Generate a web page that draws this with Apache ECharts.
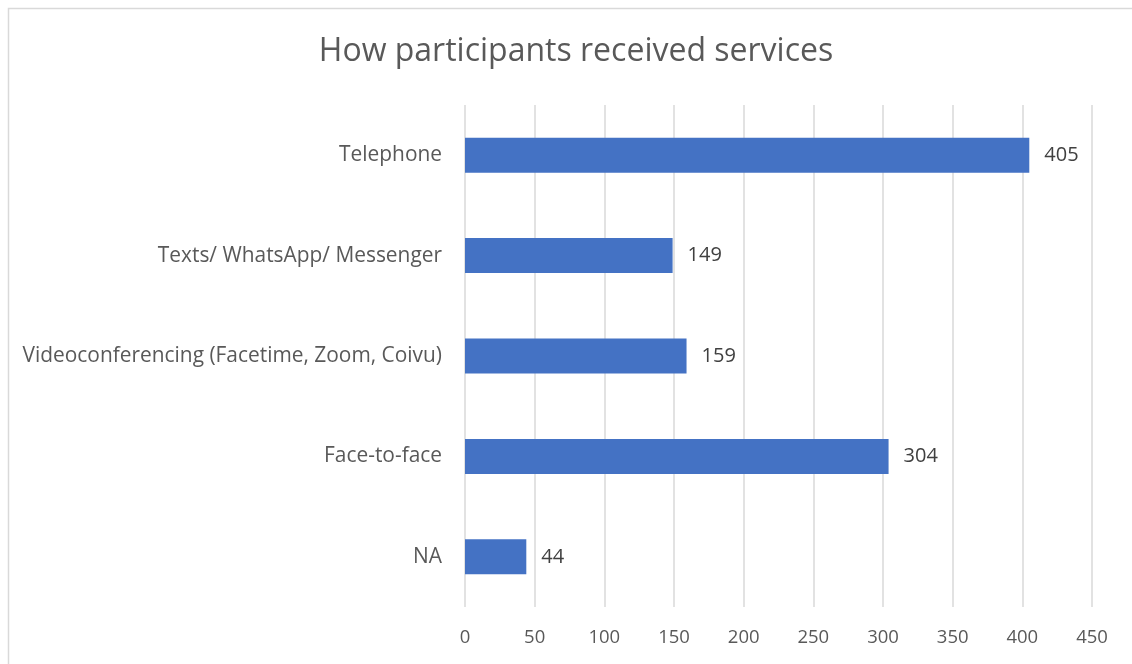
<!DOCTYPE html>
<html>
<head>
<meta charset="utf-8">
<style>
  html, body { margin: 0; padding: 0; background: #fff; }
  #chart { width: 1132px; height: 664px; }
</style>
<script src="https://cdn.jsdelivr.net/npm/echarts@6/dist/echarts.min.js"></script>
</head>
<body>
<div id="chart"></div>
<script>
// Service delivery modes, listed bottom-to-top for the category axis
const categories = ['NA', 'Face-to-face', 'Videoconferencing (Facetime, Zoom, Coivu)', 'Texts/ WhatsApp/ Messenger', 'Telephone'];
const counts = [44, 304, 159, 149, 405];
const xTicks = [0, 50, 100, 150, 200, 250, 300, 350, 400, 450];

const font = '"Open Sans", "Noto Sans", sans-serif';
const chart = echarts.init(document.getElementById('chart'), null, { renderer: 'canvas' });

chart.setOption({
  animation: false,
  backgroundColor: '#ffffff',
  title: {
    text: 'How participants received services',
    left: 571,
    top: 31,
    textAlign: 'center',
    textStyle: { fontFamily: font, fontSize: 32, fontWeight: 'normal', color: '#595959' }
  },
  graphic: [{
    type: 'rect',
    shape: { x: 8.5, y: 8.5, width: 1140, height: 680 },
    style: { fill: 'none', stroke: '#d9d9d9', lineWidth: 1.5 },
    silent: true
  }],
  grid: { left: 465, right: 40, top: 105, bottom: 57, containLabel: false },
  xAxis: {
    type: 'value',
    min: xTicks[0],
    max: xTicks[xTicks.length - 1],
    interval: 50,
    axisLine: { show: false },
    axisTick: { show: false },
    splitLine: { show: true, lineStyle: { color: '#d9d9d9', width: 1.5 } },
    axisLabel: { fontFamily: font, fontSize: 18.5, color: '#595959', margin: 21 }
  },
  yAxis: {
    type: 'category',
    data: categories,
    axisLine: { show: false },
    axisTick: { show: false },
    axisLabel: { fontFamily: font, fontSize: 20.9, color: '#595959', margin: 23 }
  },
  series: [{
    type: 'bar',
    data: counts,
    barWidth: 35,
    itemStyle: { color: '#4472C4' },
    label: {
      show: true,
      position: 'right',
      distance: 15,
      fontFamily: font,
      fontSize: 20,
      color: '#404040'
    }
  }]
});
</script>
</body>
</html>
